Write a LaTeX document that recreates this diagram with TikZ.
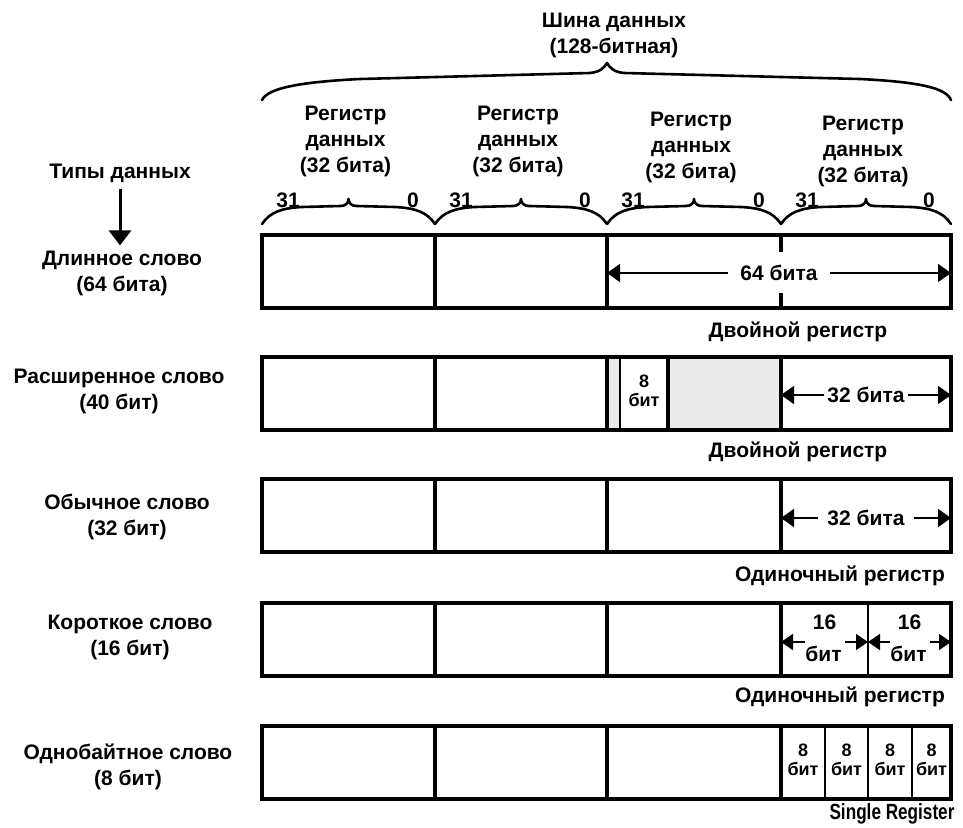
\documentclass[tikz,border=0pt]{standalone}
\usepackage{fontspec}
\setmainfont{Liberation Sans}
\newfontfamily\narrowfont[FakeStretch=0.78]{Liberation Sans}
\usetikzlibrary{arrows.meta}

\begin{document}
\begin{tikzpicture}[x=1pt, y=-1pt]
% Data types in register pairs, drawn in image pixel coordinates (y grows downward)
\def\rowh{73}
\providecommand{\regFillColor}{black!8}
\providecommand{\regBoxWidth}{3.8pt}
\providecommand{\regThinWidth}{2.6pt}
\tikzset{
  lbl/.style={font=\fontsize{21}{26}\selectfont\bfseries, align=center, inner sep=0pt},
  celltxt/.style={font=\fontsize{18}{19}\selectfont\bfseries, align=center, inner sep=0pt},
  bracepath/.style={line width=2.6pt, line cap=round, line join=round},
  dimarrow/.style={line width=1.8pt, {Triangle[length=13pt,width=18pt]}-{Triangle[length=13pt,width=18pt]}},
  onearrow/.style={line width=1.8pt, -{Triangle[length=12pt,width=16pt]}},
}
\useasboundingbox (0,0) rectangle (963,827);
% Bus caption and big brace
\node[lbl] (bus) at (614,35) {Шина данных\\(128-битная)};
\draw[bracepath] (262,100) .. controls (268,88) and (300,82) .. (360,79) -- (590,73)
  .. controls (600,72) and (604,68) .. (607,63) .. controls (610,68) and (614,72) .. (624,73)
  -- (860,79) .. controls (920,82) and (946,88) .. (951,100);
% Register captions, bit numbers and small braces
\foreach \xa/\xb/\cy/\n in {262/435/141/1, 435/607/141/2, 607/781/147/3, 781/951/151/4} {
  \pgfmathsetmacro{\xc}{(\xa+\xb)/2}
  \node[lbl] (reg\n) at (\xc-3,\cy) {Регистр\\данных\\(32 бита)};
  \node[lbl] (hi\n) at (\xa+26,200) {31};
  \node[lbl] (lo\n) at (\xb-22,200) {0};
  \draw[bracepath] (\xa,224) .. controls (\xa+8,212) and (\xa+20,208) .. (\xa+40,207)
    -- (\xc-8,206) .. controls (\xc-3,206) and (\xc,203) .. (\xc,199)
    .. controls (\xc,203) and (\xc+3,206) .. (\xc+8,206)
    -- (\xb-40,207) .. controls (\xb-20,208) and (\xb-8,212) .. (\xb,224);
}
% Data type names
\node[lbl] (types) at (120,173) {Типы данных};
\node[lbl] (long) at (122,273) {Длинное слово\\(64 бита)};
\node[lbl] (ext) at (119,391) {Расширенное слово\\(40 бит)};
\node[lbl] (word) at (127,517) {Обычное слово\\(32 бит)};
\node[lbl] (short) at (130,637) {Короткое слово\\(16 бит)};
\node[lbl] (byte) at (128,767) {Однобайтное слово\\(8 бит)};
\draw[line width=3pt, -{Triangle[length=15pt,width=22pt]}, shorten <=6pt, shorten >=5pt]
  (types.south) -- (types.south |- long.north);
% Shaded parts of the extended word
\fill[\regFillColor] (607,357) rectangle (620,431);
\fill[\regFillColor] (668,357) rectangle (781,431);
% Row frames
\foreach \t in {235,357,479,603,726} {
  \draw[line width=\regBoxWidth] (262,\t) rectangle (951,\t+\rowh);
  \draw[line width=\regBoxWidth] (435,\t) -- (435,\t+\rowh) (607,\t) -- (607,\t+\rowh);
}
\foreach \t in {357,479,603,726}
  \draw[line width=\regBoxWidth] (781,\t) -- (781,\t+\rowh);
\draw[line width=\regBoxWidth] (781,235) -- (781,252) (781,293) -- (781,308);
% Sub-fields
\draw[line width=\regThinWidth] (620,357) -- (620,430);
\draw[line width=\regBoxWidth] (668,357) -- (668,430);
\draw[line width=\regThinWidth] (868,603) -- (868,676);
\foreach \x in {825,868,912}
  \draw[line width=\regThinWidth] (\x,726) -- (\x,799);
% Width arrows
\coordinate (d1a) at (607,273); \coordinate (d1b) at (951,273);
\coordinate (d2a) at (781,395); \coordinate (d2b) at (951,395);
\coordinate (d3a) at (781,518); \coordinate (d3b) at (951,518);
\draw[dimarrow] (d1a) -- node[lbl, fill=white, inner xsep=12pt, inner ysep=2pt] (w64) {64 бита} (d1b);
\draw[dimarrow] (d2a) -- node[lbl, fill=white, inner xsep=3pt, inner ysep=2pt] (w32a) {32 бита} (d2b);
\draw[dimarrow] (d3a) -- node[lbl, fill=white, inner xsep=9pt, inner ysep=2pt] (w32b) {32 бита} (d3b);
% Short word halves
\foreach \xa/\xb/\n in {781/868/1, 868/951/2} {
  \pgfmathsetmacro{\xc}{(\xa+\xb)/2}
  \coordinate (h\n l) at (\xc-20,642); \coordinate (h\n e) at (\xa,642);
  \coordinate (h\n r) at (\xc+20,642); \coordinate (h\n f) at (\xb,642);
  \draw[onearrow] (h\n l) -- (h\n e);
  \draw[onearrow] (h\n r) -- (h\n f);
  \node[lbl] (s\n top) at (\xc,622) {16};
  \node[lbl] (s\n bot) at (\xc-1,654) {бит};
}
% Byte fields
\node[celltxt] (e8) at (644,391) {8\\бит};
\foreach \xc/\n in {803/1, 846.5/2, 890/3, 931.5/4}
  \node[celltxt] (b\n) at (\xc,760) {8\\бит};
% Register kind captions
\node[lbl] (dbl1) at (798,332) {Двойной регистр};
\node[lbl] (dbl2) at (798,452) {Двойной регистр};
\node[lbl] (sgl1) at (840,576) {Одиночный регистр};
\node[lbl] (sgl2) at (840,697) {Одиночный регистр};
\node[lbl, font=\narrowfont\fontsize{22}{26}\selectfont\bfseries] (sgl3) at (892,814) {Single Register};
\end{tikzpicture}
\end{document}
